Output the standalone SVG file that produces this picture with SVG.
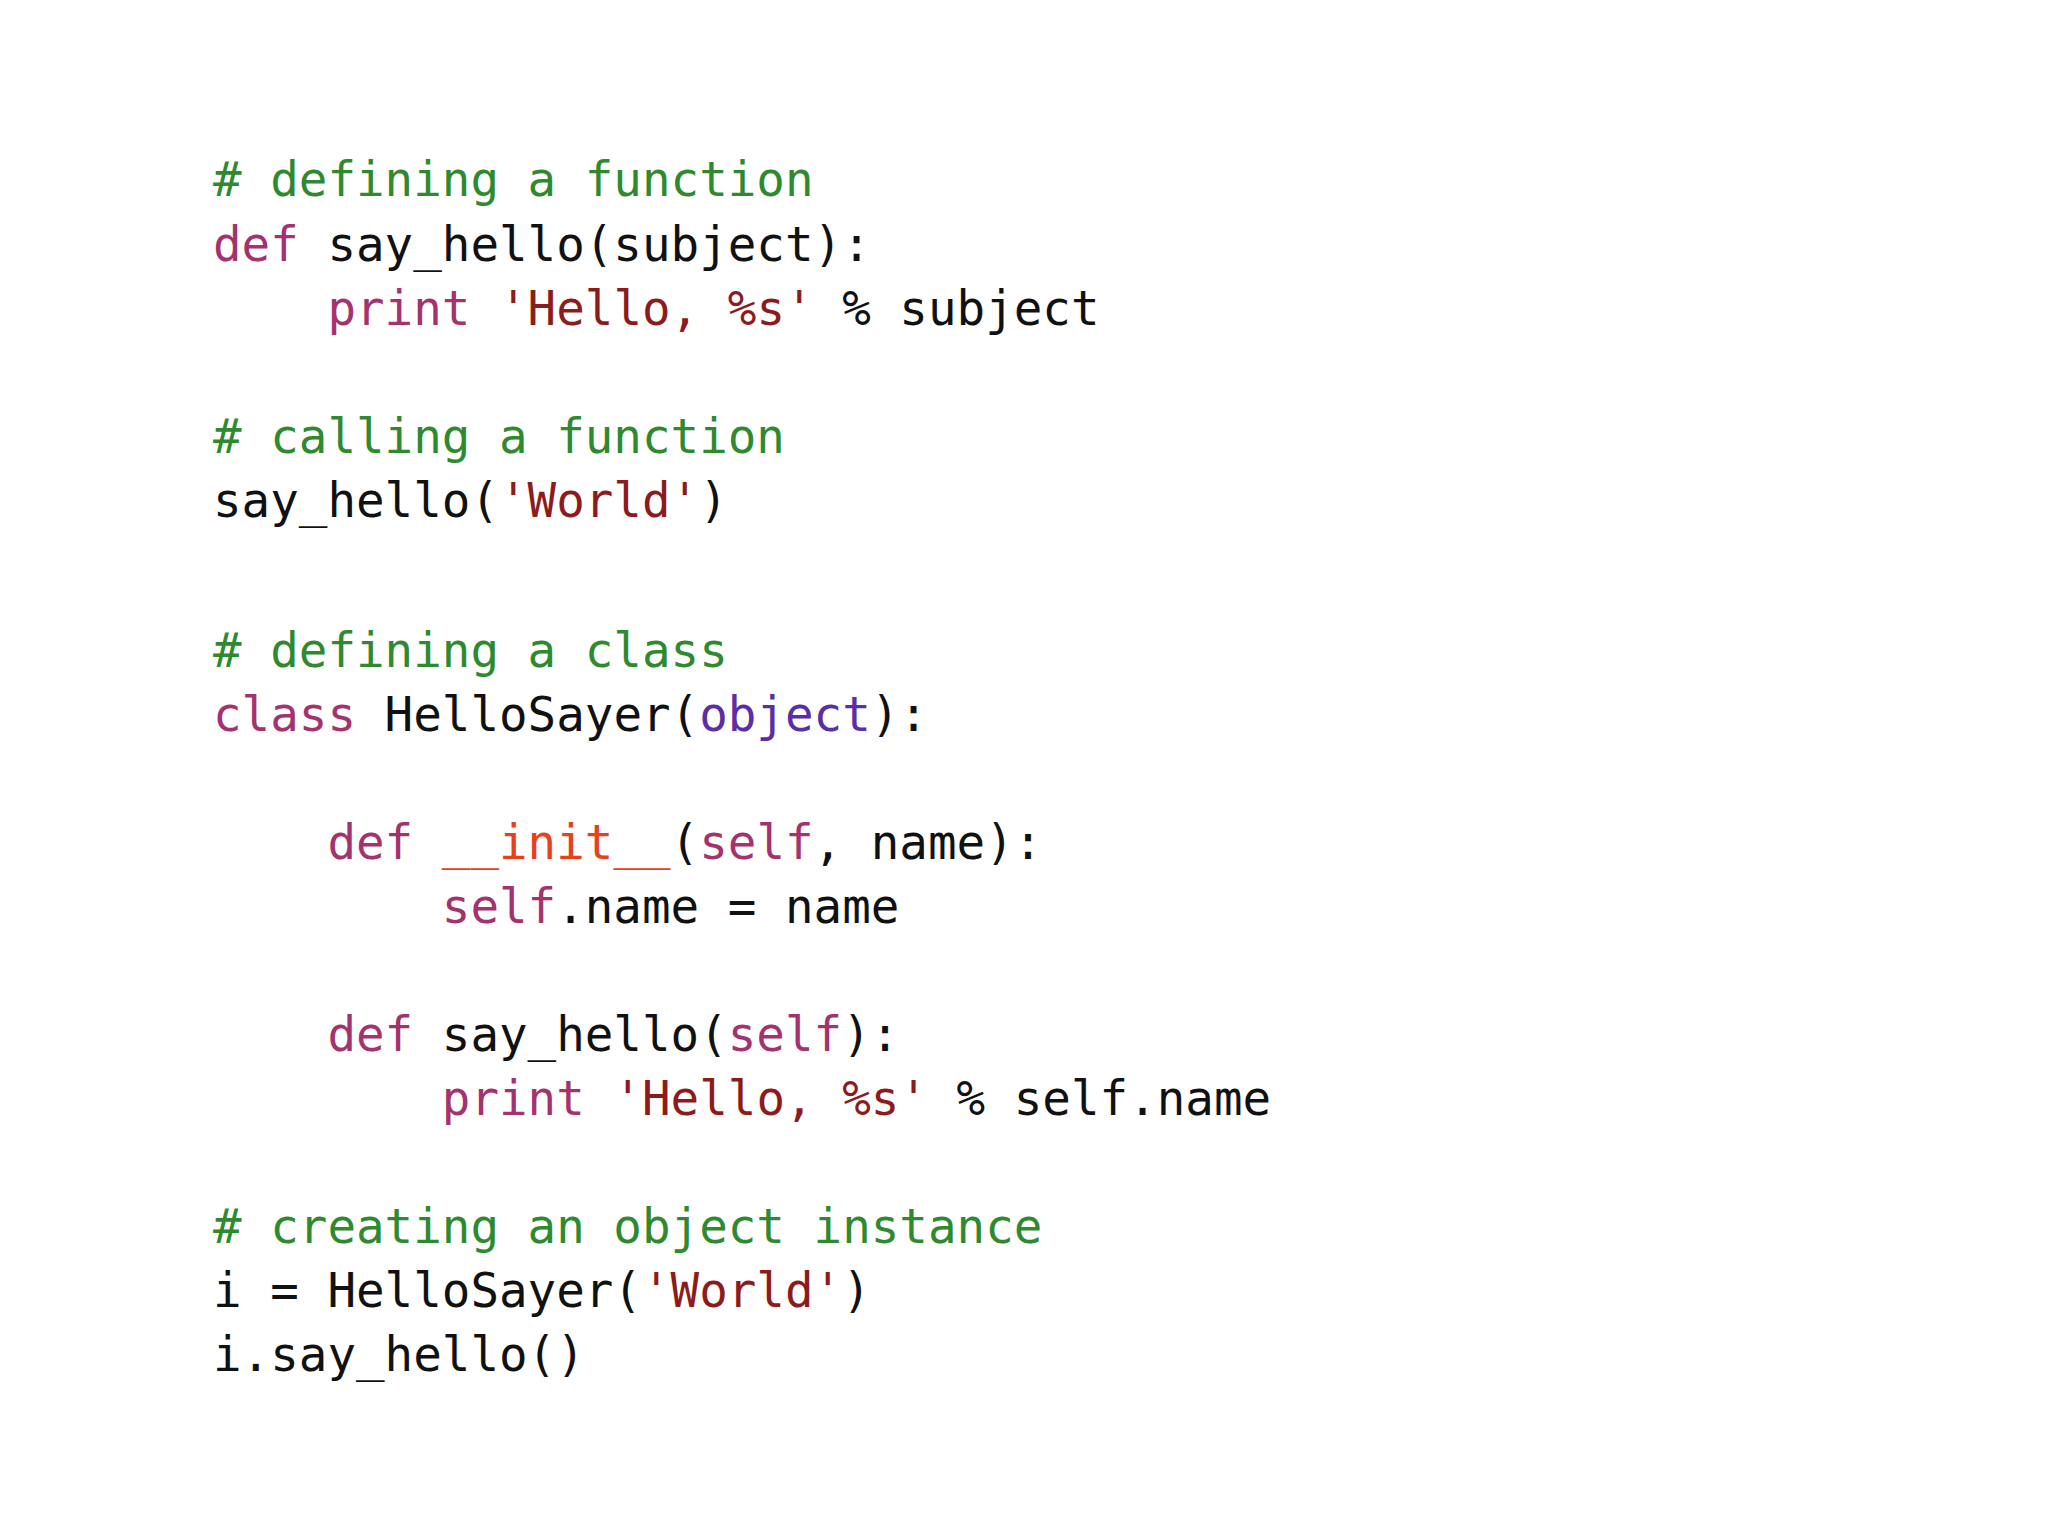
<svg xmlns="http://www.w3.org/2000/svg" width="2048" height="1536" viewBox="0 0 2048 1536">
<style>
text{font-family:"DejaVu Sans Mono","Liberation Mono",monospace;font-size:47.5px;fill:#111;white-space:pre}
.c{fill:#2f8a2f}.k{fill:#a3336e}.s{fill:#8c1c1c}.o{fill:#5a2ea6}.m{fill:#e8401a}
</style>
<rect width="2048" height="1536" fill="#ffffff"/>
<g id="code" xml:space="preserve">
<text x="213" y="196"><tspan class="c"># defining a function</tspan></text>
<text x="213" y="261"><tspan class="k">def</tspan> say_hello(subject):</text>
<text x="213" y="325">    <tspan class="k">print</tspan> <tspan class="s">'Hello, %s'</tspan> % subject</text>
<text x="213" y="453"><tspan class="c"># calling a function</tspan></text>
<text x="213" y="517">say_hello(<tspan class="s">'World'</tspan>)</text>
<text x="213" y="667"><tspan class="c"># defining a class</tspan></text>
<text x="213" y="731"><tspan class="k">class</tspan> HelloSayer(<tspan class="o">object</tspan>):</text>
<text x="213" y="859">    <tspan class="k">def</tspan> <tspan class="m">__init__</tspan>(<tspan class="k">self</tspan>, name):</text>
<text x="213" y="923">        <tspan class="k">self</tspan>.name = name</text>
<text x="213" y="1051">    <tspan class="k">def</tspan> say_hello(<tspan class="k">self</tspan>):</text>
<text x="213" y="1115">        <tspan class="k">print</tspan> <tspan class="s">'Hello, %s'</tspan> % self.name</text>
<text x="213" y="1243"><tspan class="c"># creating an object instance</tspan></text>
<text x="213" y="1307">i = HelloSayer(<tspan class="s">'World'</tspan>)</text>
<text x="213" y="1371">i.say_hello()</text>
</g>
</svg>
